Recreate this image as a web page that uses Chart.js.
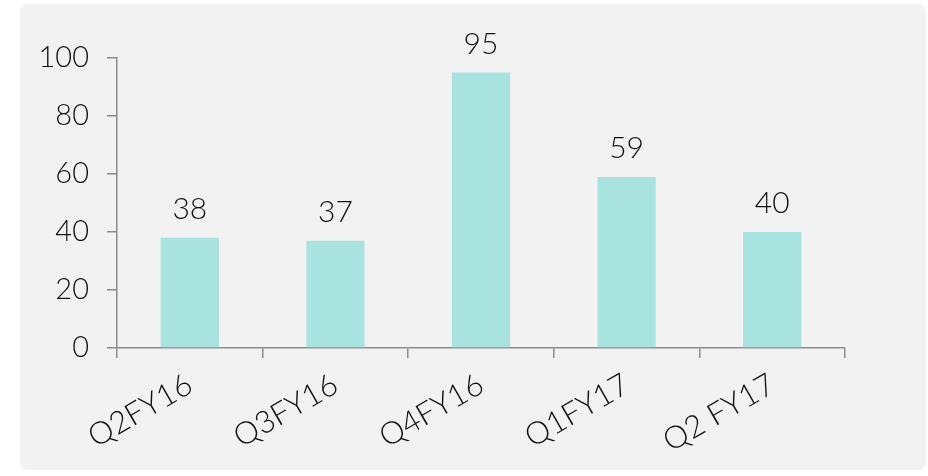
<!DOCTYPE html>
<html>
<head>
<meta charset="utf-8">
<script src="https://cdn.jsdelivr.net/npm/chart.js@4/dist/chart.umd.min.js"></script>
<style>
  html, body { margin: 0; padding: 0; background: #ffffff; }
  #wrap { width: 928px; height: 476px; }
</style>
</head>
<body>
<div id="wrap"><canvas id="chart" width="928" height="476"></canvas></div>
<script>
// datos del gráfico
var quarters = ["Q2FY16", "Q3FY16", "Q4FY16", "Q1FY17", "Q2 FY17"];
var values = [38, 37, 95, 59, 40];
var yTicks = [0, 20, 40, 60, 80, 100];

var fontFamily = "Lato, 'Open Sans', sans-serif";

// fondo gris redondeado
var cardBackground = {
    id: "cardBackground",
    beforeDraw: function(chart) {
        var ctx = chart.ctx;
        var x = 20, y = 4, w = 906, h = 466, r = 8;
        ctx.save();
        ctx.fillStyle = "#f2f2f2";
        ctx.beginPath();
        ctx.moveTo(x + r, y);
        ctx.arcTo(x + w, y, x + w, y + h, r);
        ctx.arcTo(x + w, y + h, x, y + h, r);
        ctx.arcTo(x, y + h, x, y, r);
        ctx.arcTo(x, y, x + w, y, r);
        ctx.closePath();
        ctx.fill();
        ctx.restore();
    }
};

// etiquetas encima de las barras
var barLabels = {
    id: "barLabels",
    afterDatasetsDraw: function(chart) {
        var ctx = chart.ctx;
        var meta = chart.getDatasetMeta(0);
        ctx.save();
        ctx.fillStyle = "#111111";
        ctx.font = "300 30px " + fontFamily;
        ctx.textAlign = "center";
        ctx.textBaseline = "alphabetic";
        meta.data.forEach(function(bar, i) {
            ctx.fillText(String(values[i]), bar.x, bar.y - 19);
        });
        ctx.restore();
    }
};

var ctx = document.getElementById("chart").getContext("2d");
var chart = new Chart(ctx, {
    type: "bar",
    data: {
        labels: quarters,
        datasets: [{
            data: values,
            backgroundColor: "#a9e3df",
            categoryPercentage: 0.4,
            barPercentage: 1.0
        }]
    },
    options: {
        responsive: false,
        animation: false,
        devicePixelRatio: 1,
        layout: { padding: { top: 58, right: 83, left: 0, bottom: 0 } },
        plugins: {
            legend: { display: false },
            tooltip: { enabled: false }
        },
        scales: {
            x: {
                offset: true,
                grid: {
                    offset: true,
                    drawOnChartArea: false,
                    drawTicks: true,
                    tickLength: 10,
                    color: "#8c8c8c",
                    lineWidth: 1.5
                },
                border: { color: "#8c8c8c", width: 1.5 },
                ticks: {
                    color: "#111111",
                    font: { family: fontFamily, size: 31, weight: 300 },
                    maxRotation: 30,
                    minRotation: 30,
                    padding: 8
                },
                afterFit: function(scale) { scale.height = 128; }
            },
            y: {
                min: 0,
                max: 100,
                afterBuildTicks: function(scale) {
                    scale.ticks = yTicks.map(function(v) { return { value: v }; });
                },
                grid: {
                    drawOnChartArea: false,
                    drawTicks: true,
                    tickLength: 10,
                    color: "#8c8c8c",
                    lineWidth: 1.5
                },
                border: { color: "#8c8c8c", width: 1.5 },
                ticks: {
                    color: "#111111",
                    font: { family: fontFamily, size: 29, weight: 300 },
                    padding: 18
                },
                afterFit: function(scale) { scale.width = 117; }
            }
        }
    },
    plugins: [cardBackground, barLabels]
});
</script>
</body>
</html>
